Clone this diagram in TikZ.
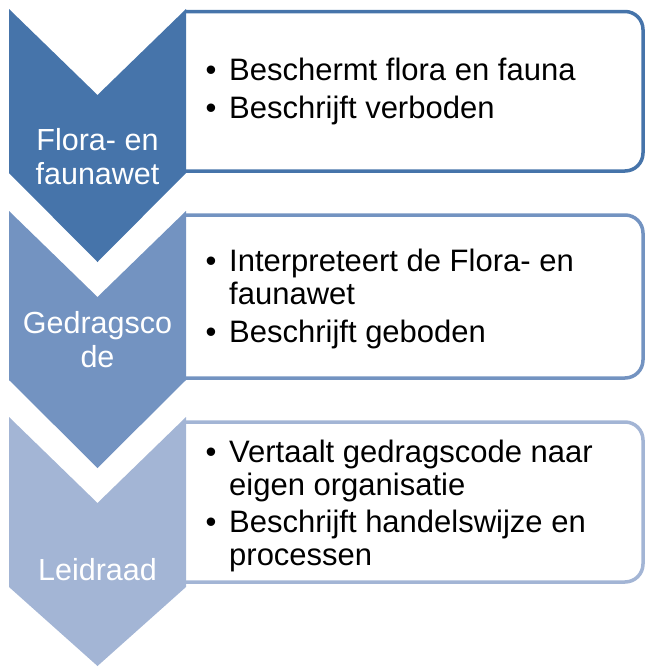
\documentclass[tikz,border=0pt]{standalone}
\usepackage{fontspec}
\setmainfont{Liberation Sans}
\definecolor{floraBlue}{RGB}{70,116,170}
\definecolor{codeBlue}{RGB}{115,147,193}
\definecolor{leidBlue}{RGB}{163,181,213}
\tikzset{
	boxline/.style={line width=3.5pt, rounded corners=18pt},
	steplabel/.style={text=white, font=\fontsize{30.5}{34}\selectfont, align=center, inner sep=0pt, anchor=base},
	bullettext/.style={font=\fontsize{31}{33}\selectfont, align=left, inner sep=0pt, anchor=base west},
	bulletdot/.style={font=\fontsize{31}{33}\selectfont, inner sep=0pt, anchor=base},
}
% base anchor of a multi-line node sits on its last line
\def\chevron[#1](#2)(#3)(#4){\fill[#1] (9,#2) -- (97.5,{#2+86}) -- (186,#2) -- (186,#3) -- (97.5,#4) -- (9,#3) -- cycle;}

\begin{document}
\begin{tikzpicture}[x=1pt, y=-1pt]
			%%%%% START %%%%%
			\useasboundingbox (0,0) rectangle (647,667);
			
			% text boxes (left edge hidden by the chevrons)
			\draw[boxline, draw=floraBlue] (186,11.5) -- (643,11.5) -- (643,171) -- (186,171);
			\draw[boxline, draw=codeBlue] (186,215) -- (643,215) -- (643,378) -- (186,378);
			\draw[boxline, draw=leidBlue] (186,422) -- (643,422) -- (643,582) -- (186,582);
			
			% chevrons
			\chevron[floraBlue](9)(173)(262);
			\chevron[codeBlue](211)(380)(468);
			\chevron[leidBlue](417)(587)(666);
			
			\node[steplabel] (flora) at (97.5,184) {Flora- en\\faunawet};
			\node[steplabel] (code) at (97.5,367) {Gedragsco\\de};
			\node[steplabel] (leid) at (97.5,580) {Leidraad};
			
			% bullets
			\node[bulletdot] (d11) at (211,80) {•};
			\node[bullettext] (t11) at (229,80) {Beschermt flora en fauna};
			\node[bulletdot] (d12) at (211,118) {•};
			\node[bullettext] (t12) at (229,118) {Beschrijft verboden};
			
			\node[bulletdot] (d21) at (211,271) {•};
			\node[bullettext] (t21) at (229,304) {Interpreteert de Flora- en\\faunawet};
			\node[bulletdot] (d22) at (211,342) {•};
			\node[bullettext] (t22) at (229,342) {Beschrijft geboden};
			
			\node[bulletdot] (d31) at (211,462) {•};
			\node[bullettext] (t31) at (229,495) {Vertaalt gedragscode naar\\eigen organisatie};
			\node[bulletdot] (d32) at (211,532) {•};
			\node[bullettext] (t32) at (229,565) {Beschrijft handelswijze en\\processen};
			%%%%% END %%%%%
\end{tikzpicture}
\end{document}
